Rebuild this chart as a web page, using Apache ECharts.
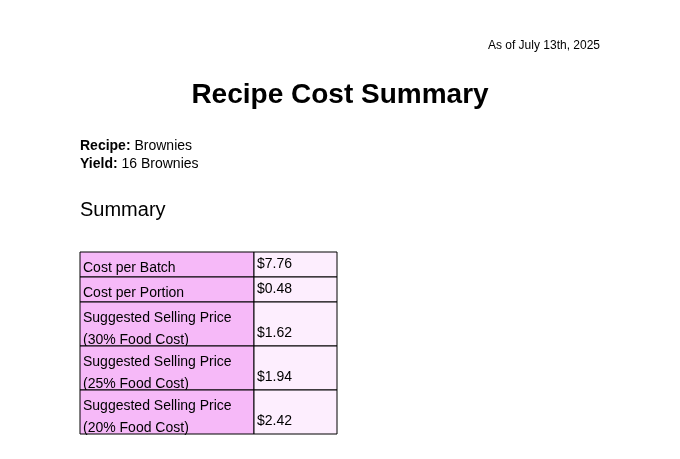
<!DOCTYPE html>
<html><head><meta charset="utf-8">
<script src="https://cdn.jsdelivr.net/npm/echarts@6/dist/echarts.min.js"></script>
<style>html,body{margin:0;padding:0;background:#fff}#c{width:680px;height:459px}</style>
</head><body><div id="c"></div>
<script>
const title = "Recipe Cost Summary";
const asOf = "As of July 13th, 2025";
const recipe = "Brownies";
const yieldText = "16 Brownies";
const rowLabels = ["Cost per Batch", "Cost per Portion", "Suggested Selling Price\n(30% Food Cost)", "Suggested Selling Price\n(25% Food Cost)", "Suggested Selling Price\n(20% Food Cost)"];
const rowValues = ["$7.76", "$0.48", "$1.62", "$1.94", "$2.42"];

const F = "Liberation Sans, Arial, sans-serif";
const g = [];
g.push({type:'text', right:80, top:40, style:{text:asOf, font:'12px '+F, fill:'#000'}});
g.push({type:'text', left:'center', top:81, style:{text:title, font:'bold 28px '+F, fill:'#000'}});
g.push({type:'text', left:80, top:139, style:{rich:{b:{font:'bold 14px '+F},n:{font:'14px '+F}}, text:'{b|Recipe:}{n| '+recipe+'}', fill:'#000'}});
g.push({type:'text', left:80, top:157, style:{rich:{b:{font:'bold 14px '+F},n:{font:'14px '+F}}, text:'{b|Yield:}{n| '+yieldText+'}', fill:'#000'}});
g.push({type:'text', left:80, top:200, style:{text:'Summary', font:'20px '+F, fill:'#000'}});
const x0=80, x1=254, x2=337;
let y=252;
rowLabels.forEach((lab,i)=>{
  const two = lab.indexOf('\n')>=0;
  const h = two?44:25;
  g.push({type:'rect', shape:{x:x0,y:y,width:x1-x0,height:h}, style:{fill:'#f6b9f8',stroke:'#000',lineWidth:1}});
  g.push({type:'rect', shape:{x:x1,y:y,width:x2-x1,height:h}, style:{fill:'#fdeefe',stroke:'#000',lineWidth:1}});
  g.push({type:'text', x:x0+3, y:y+5, style:{text:lab, font:'14px '+F, lineHeight:22, fill:'#000'}});
  g.push({type:'text', x:x1+3, y:y+h-20, style:{text:rowValues[i], font:'14px '+F, fill:'#000'}});
  y+=h;
});
const chart = echarts.init(document.getElementById('c'));
chart.setOption({backgroundColor:'#fff', graphic:g});
</script></body></html>
